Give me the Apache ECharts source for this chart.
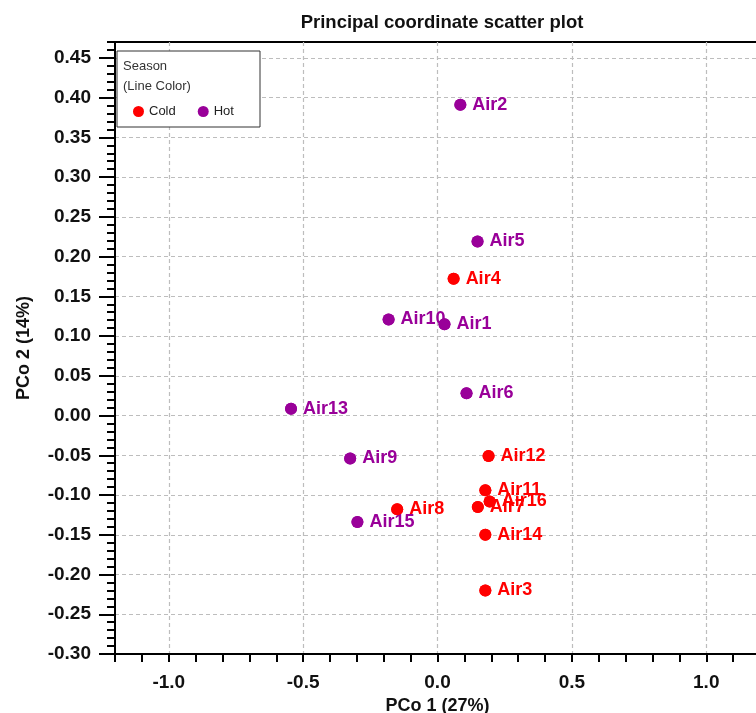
<!DOCTYPE html>
<html>
<head>
<meta charset="utf-8">
<script src="https://cdn.jsdelivr.net/npm/echarts@6/dist/echarts.min.js"></script>
<style>
html,body{margin:0;padding:0;background:#fff;}
#chart{width:756px;height:713px;}
</style>
</head>
<body>
<div id="chart"></div>
<script>
// ---- data ----
const coldNames = ['Air3', 'Air4', 'Air7', 'Air8', 'Air11', 'Air12', 'Air14', 'Air16'];
const coldX = [0.178, 0.060, 0.150, -0.150, 0.178, 0.190, 0.178, 0.194];
const coldY = [-0.220, 0.172, -0.115, -0.118, -0.094, -0.051, -0.150, -0.108];

const hotNames = ['Air10', 'Air1', 'Air2', 'Air5', 'Air6', 'Air9', 'Air13', 'Air15'];
const hotX = [-0.182, 0.026, 0.085, 0.149, 0.108, -0.325, -0.545, -0.298];
const hotY = [0.121, 0.115, 0.391, 0.219, 0.028, -0.054, 0.0085, -0.134];

const xTickValues = [-1.0, -0.5, 0.0, 0.5, 1.0];
const yTickValues = [-0.30, -0.25, -0.20, -0.15, -0.10, -0.05, 0.00, 0.05, 0.10, 0.15, 0.20, 0.25, 0.30, 0.35, 0.40, 0.45];
const seasonNames = ['Cold', 'Hot'];

// ---- chart ----
const FONT = '"Liberation Sans", Arial, Helvetica, sans-serif';
const COLD = '#ff0000';
const HOT = '#990099';

function pts(xs, ys, names) {
  return xs.map((x, i) => ({ name: names[i], value: [x, ys[i]] }));
}

function labelSeries(name, color, data) {
  return {
    name: name, type: 'scatter', xAxisIndex: 0, yAxisIndex: 0,
    symbol: 'circle', symbolSize: 12, z: 2,
    itemStyle: { color: color, opacity: 1 },
    label: {
      show: true, position: 'right', distance: 6, offset: [0, 5],
      formatter: p => p.name, color: color,
      fontFamily: FONT, fontWeight: 'bold', fontSize: 18
    },
    emphasis: { disabled: true },
    labelLayout: { hideOverlap: false },
    data: data
  };
}
function dotSeries(name, color, data) {
  return {
    name: name, type: 'scatter', xAxisIndex: 0, yAxisIndex: 0,
    symbol: 'circle', symbolSize: 12, z: 5,
    itemStyle: { color: color, opacity: 1 },
    label: { show: false },
    emphasis: { disabled: true },
    data: data
  };
}

const coldData = pts(coldX, coldY, coldNames);
const hotData = pts(hotX, hotY, hotNames);

const axisLineStyle = { color: '#000', width: 2 };
const gridLine = { show: true, lineStyle: { color: '#bdbdbd', width: 1.2, type: [4, 3] } };

const option = {
  backgroundColor: '#fff',
  animation: false,
  title: {
    text: 'Principal coordinate scatter plot',
    left: 437, top: 8, textAlign: 'center',
    textStyle: { fontFamily: FONT, fontWeight: 'bold', fontSize: 18.5, color: '#111' }
  },
  grid: {
    left: 115, top: 42, right: -4, bottom: 59,
    outerBoundsMode: 'none', containLabel: false,
    show: true, borderColor: '#000', borderWidth: 2, backgroundColor: 'transparent'
  },
  legend: {
    data: seasonNames,
    left: 128, top: 100,
    icon: 'circle', itemWidth: 11, itemHeight: 11, itemGap: 22,
    textStyle: { fontFamily: FONT, fontSize: 13, color: '#222' },
    selectedMode: false, z: 8
  },
  graphic: [
    { type: 'rect', z: 7, shape: { x: 117, y: 51, width: 143, height: 76 },
      style: { fill: '#fff', stroke: '#333', lineWidth: 1 } },
    { type: 'text', z: 8, x: 123, y: 60,
      style: { text: 'Season', font: '13px ' + FONT, fill: '#333' } },
    { type: 'text', z: 8, x: 123, y: 80,
      style: { text: '(Line Color)', font: '13px ' + FONT, fill: '#333' } }
  ],
  xAxis: [
    {
      type: 'value', position: 'bottom', min: -1.2, max: 1.2, interval: 0.1,
      name: 'PCo 1 (27%)', nameLocation: 'middle', nameGap: 37,
      nameTextStyle: { fontFamily: FONT, fontWeight: 'bold', fontSize: 18, color: '#111' },
      axisLine: { show: true, onZero: false, lineStyle: axisLineStyle },
      axisTick: { show: true, length: 8, lineStyle: { color: '#000', width: 2 } },
      axisLabel: {
        show: true, customValues: xTickValues, margin: 19,
        formatter: v => Number(v).toFixed(1),
        fontFamily: FONT, fontWeight: 'bold', fontSize: 19, color: '#111'
      },
      splitLine: { show: false }
    },
    {
      type: 'value', position: 'bottom', min: -1.2, max: 1.2,
      axisLine: { show: false, onZero: false },
      axisTick: { show: false, customValues: xTickValues },
      axisLabel: { show: false },
      splitLine: gridLine
    }
  ],
  yAxis: [
    {
      type: 'value', position: 'left', min: -0.30, max: 0.47, interval: 0.01,
      name: 'PCo 2 (14%)', nameLocation: 'middle', nameGap: 82,
      nameTextStyle: { fontFamily: FONT, fontWeight: 'bold', fontSize: 18, color: '#111' },
      axisLine: { show: true, onZero: false, lineStyle: axisLineStyle },
      axisTick: { show: true, length: 8, lineStyle: { color: '#000', width: 2 } },
      axisLabel: {
        show: true, customValues: yTickValues, margin: 24,
        formatter: v => Number(v).toFixed(2),
        fontFamily: FONT, fontWeight: 'bold', fontSize: 19, color: '#111'
      },
      splitLine: { show: false }
    },
    {
      type: 'value', position: 'left', min: -0.30, max: 0.47, splitNumber: 15,
      axisLine: { show: false, onZero: false },
      axisTick: { show: true, length: 16, customValues: yTickValues, lineStyle: { color: '#000', width: 2 } },
      axisLabel: { show: false },
      splitLine: gridLine
    }
  ],
  series: [
    labelSeries('Cold', COLD, coldData),
    labelSeries('Hot', HOT, hotData),
    dotSeries('Cold', COLD, coldData),
    dotSeries('Hot', HOT, hotData)
  ]
};

const chart = echarts.init(document.getElementById('chart'), null, { renderer: 'canvas' });
chart.setOption(option);
</script>
</body>
</html>
